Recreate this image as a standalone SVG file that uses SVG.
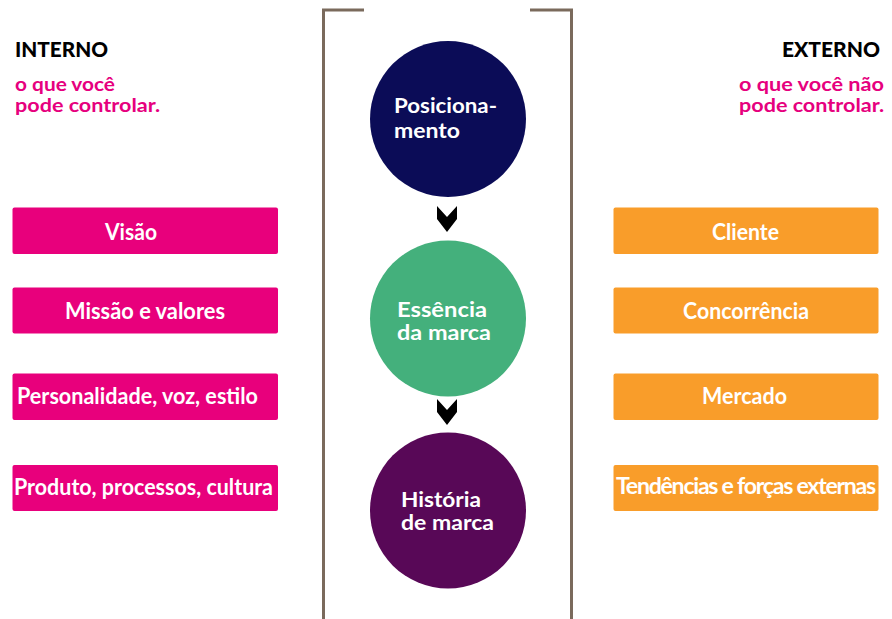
<svg xmlns="http://www.w3.org/2000/svg" width="892" height="619" viewBox="0 0 892 619">
<style>
.t{font-family:Lato,"Open Sans","Liberation Sans",sans-serif;font-weight:700}
.hd{font-family:Lato,"Open Sans","Liberation Sans",sans-serif;font-weight:900;font-size:20px;fill:#000}
.sub{font-family:Lato,"Open Sans","Liberation Sans",sans-serif;font-weight:700;font-size:19.5px;fill:#e6007e}
.bt{font-size:23px;fill:#fff}
.ct{font-size:21px;fill:#fff}
.pink{fill:#e8007c}
.orange{fill:#f99d2a}
.bracket{fill:none;stroke:#7a6a5c;stroke-width:3}
.chev{fill:#000}
</style>
<rect width="892" height="619" fill="#fff"/>
<g id="bracket">
<polyline class="bracket" points="364,10 323.5,10 323.5,619"/>
<polyline class="bracket" points="530,10 571.5,10 571.5,619"/>
</g>
<g id="header-interno">
<text class="hd" x="15" y="57" textLength="93" lengthAdjust="spacingAndGlyphs">INTERNO</text>
<text class="sub" x="15" y="90.5" textLength="100" lengthAdjust="spacingAndGlyphs">o que você</text>
<text class="sub" x="15" y="111.5" textLength="145" lengthAdjust="spacingAndGlyphs">pode controlar.</text>
</g>
<g id="header-externo">
<text class="hd" x="782" y="57" textLength="98" lengthAdjust="spacingAndGlyphs">EXTERNO</text>
<text class="sub" x="739" y="90.5" textLength="145" lengthAdjust="spacingAndGlyphs">o que você não</text>
<text class="sub" x="739" y="111.5" textLength="145" lengthAdjust="spacingAndGlyphs">pode controlar.</text>
</g>
<g id="visao"><rect class="pink" x="12.5" y="207.5" width="265.5" height="46.5" rx="2"/><text class="t bt" x="105" y="239.5" textLength="52" lengthAdjust="spacingAndGlyphs">Visão</text></g>
<g id="missao"><rect class="pink" x="12.5" y="287.5" width="265.5" height="46" rx="2"/><text class="t bt" x="65" y="319" textLength="160" lengthAdjust="spacingAndGlyphs">Missão e valores</text></g>
<g id="personalidade"><rect class="pink" x="12.5" y="373.5" width="265.5" height="46.5" rx="2"/><text class="t bt" x="17" y="404" textLength="241" lengthAdjust="spacingAndGlyphs">Personalidade, voz, estilo</text></g>
<g id="produto"><rect class="pink" x="12.5" y="465" width="265.5" height="46" rx="2"/><text class="t bt" x="14" y="495" textLength="259" lengthAdjust="spacingAndGlyphs">Produto, processos, cultura</text></g>
<g id="cliente"><rect class="orange" x="613.5" y="207.5" width="265" height="46.5" rx="2"/><text class="t bt" x="712" y="239.5" textLength="67" lengthAdjust="spacingAndGlyphs">Cliente</text></g>
<g id="concorrencia"><rect class="orange" x="613.5" y="287.5" width="265" height="46" rx="2"/><text class="t bt" x="683" y="319" textLength="126" lengthAdjust="spacingAndGlyphs">Concorrência</text></g>
<g id="mercado"><rect class="orange" x="613.5" y="373.5" width="265" height="46.5" rx="2"/><text class="t bt" x="702" y="403.5" textLength="85" lengthAdjust="spacingAndGlyphs">Mercado</text></g>
<g id="tendencias"><rect class="orange" x="613.5" y="465" width="265" height="46" rx="2"/><text class="t" x="616" y="493.5" font-size="22" fill="#fff" letter-spacing="-1.2" textLength="259" lengthAdjust="spacingAndGlyphs">Tendências e forças externas</text></g>
<g id="posicionamento"><circle cx="448" cy="119" r="78" fill="#0b0c57"/><text class="t ct" x="394" y="113" textLength="103" lengthAdjust="spacingAndGlyphs">Posiciona-</text><text class="t ct" x="394" y="137.5" textLength="66" lengthAdjust="spacingAndGlyphs">mento</text></g>
<g id="essencia"><circle cx="448" cy="318.5" r="78" fill="#44b07c"/><text class="t ct" x="397" y="316.5" textLength="90" lengthAdjust="spacingAndGlyphs">Essência</text><text class="t ct" x="397" y="339.5" textLength="94" lengthAdjust="spacingAndGlyphs">da marca</text></g>
<g id="historia"><circle cx="448" cy="510.5" r="78" fill="#580857"/><text class="t ct" x="401" y="506.5" textLength="80" lengthAdjust="spacingAndGlyphs">História</text><text class="t ct" x="401" y="530" textLength="93" lengthAdjust="spacingAndGlyphs">de marca</text></g>
<g id="connectors">
<polygon class="chev" points="437,206 447,217 457,206 457,219 447,232 437,219"/>
<polygon class="chev" points="437,399 447,410 457,399 457,412 447,425 437,412"/>
</g>
</svg>
